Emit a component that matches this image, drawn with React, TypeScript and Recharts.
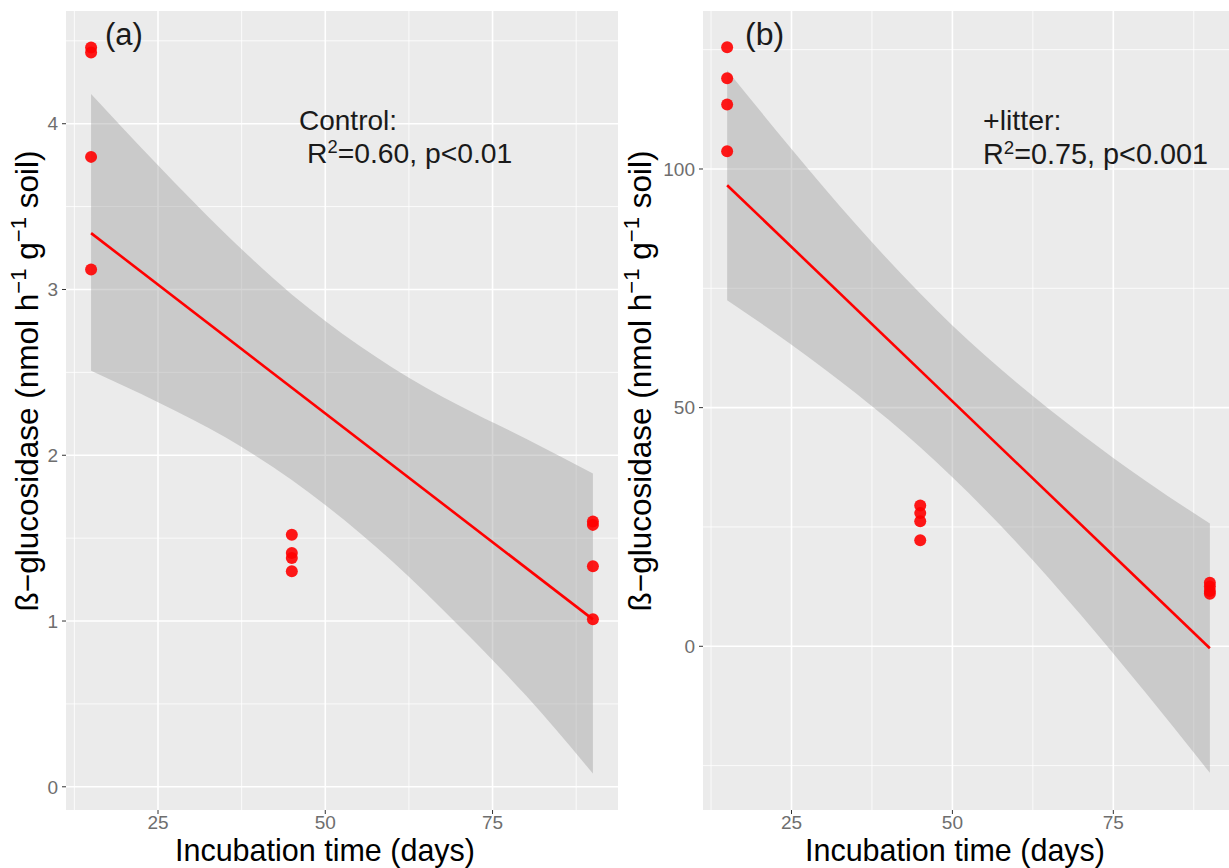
import React from "react";
import {
  ComposedChart,
  Scatter,
  Line,
  Area,
  XAxis,
  YAxis,
  CartesianGrid,
} from "recharts";

// incubation days for each replicate (same for both panels)
const days = [15, 15, 15, 15, 45, 45, 45, 45, 90, 90, 90, 90];

// beta-glucosidase activity
const controlVals = [4.46, 4.43, 3.8, 3.12, 1.52, 1.41, 1.38, 1.3, 1.6, 1.58, 1.33, 1.01];
const litterVals = [125.5, 119.0, 113.5, 103.7, 29.5, 27.9, 26.2, 22.2, 13.3, 12.5, 11.6, 11.0];

// fitted line ends
const fitDays = [15, 90];
const controlFit = [3.34, 1.01];
const litterFit = [96.6, -0.4];

// confidence band edges
const bandDays = [15, 25, 35, 45, 50, 60, 70, 80, 90];
const controlLo = [2.51, 2.32, 2.11, 1.85, 1.7, 1.36, 0.97, 0.55, 0.08];
const controlHi = [4.18, 3.75, 3.34, 2.97, 2.81, 2.53, 2.3, 2.1, 1.89];
const litterLo = [72.5, 63.2, 53.0, 41.7, 35.4, 21.7, 6.5, -9.7, -26.5];
const litterHi = [120.7, 104.2, 88.4, 73.9, 67.2, 55.2, 44.5, 34.7, 25.7];

// axis ticks
const xTicks = [25, 50, 75];
const xMinor = [12.5, 37.5, 62.5, 87.5];
const controlTicks = [0, 1, 2, 3, 4];
const controlMinor = [0.5, 1.5, 2.5, 3.5, 4.5];
const litterTicks = [0, 50, 100];
const litterMinor = [-25, 25, 75, 125];

const pts = (ys: number[]) => days.map((d, i) => ({ x: d, y: ys[i] }));
const fit = (ys: number[]) => fitDays.map((d, i) => ({ x: d, y: ys[i] }));
const band = (lo: number[], hi: number[]) =>
  bandDays.map((d, i) => ({ x: d, band: [lo[i], hi[i]] }));

const FONT = "'Liberation Sans', Arial, sans-serif";

const dot = (p: any) => (
  <circle cx={p.cx} cy={p.cy} r={6} fill="#ff0000" fillOpacity={0.9} />
);

function Panel(props: {
  width: number;
  yWidth: number;
  yDomain: [number, number];
  yTicks: number[];
  yMinor: number[];
  points: { x: number; y: number }[];
  line: { x: number; y: number }[];
  ribbon: { x: number; band: number[] }[];
}) {
  const tick = { fontSize: 19, fill: "#6e6e6e", fontFamily: FONT };
  return (
    <ComposedChart
      width={props.width}
      height={868}
      margin={{ top: 11, right: 0, bottom: 0, left: 0 }}
    >
      <CartesianGrid
        fill="#ebebeb"
        stroke="#ffffff"
        strokeWidth={0.8}
        horizontalValues={props.yMinor}
        verticalValues={xMinor}
      />
      <CartesianGrid
        stroke="#ffffff"
        strokeWidth={1.6}
        horizontalValues={props.yTicks}
        verticalValues={xTicks}
      />
      <XAxis
        type="number"
        dataKey="x"
        domain={[11.25, 93.75]}
        ticks={xTicks}
        allowDataOverflow
        height={58}
        axisLine={false}
        tickSize={4}
        tickMargin={1.5}
        tickLine={{ stroke: "#333333" }}
        tick={tick}
      />
      <YAxis
        type="number"
        dataKey="y"
        domain={props.yDomain}
        ticks={props.yTicks}
        allowDataOverflow
        width={props.yWidth}
        axisLine={false}
        tickSize={4}
        tickMargin={4}
        tickLine={{ stroke: "#333333" }}
        tick={tick}
      />
      <Scatter data={props.points} dataKey="y" shape={dot} isAnimationActive={false} />
      <Area
        data={props.ribbon}
        dataKey="band"
        type="monotone"
        fill="#999999"
        fillOpacity={0.4}
        stroke="none"
        isAnimationActive={false}
      />
      <Line
        data={props.line}
        dataKey="y"
        type="linear"
        stroke="#ff0000"
        strokeWidth={2.6}
        dot={false}
        isAnimationActive={false}
      />
    </ComposedChart>
  );
}

export default function App() {
  const yTitle = (
    <>
      ß−glucosidase (nmol h
      <tspan baselineShift="super" fontSize="0.7em">−1</tspan> g
      <tspan baselineShift="super" fontSize="0.7em">−1</tspan> soil)
    </>
  );
  return (
    <div
      style={{
        position: "absolute",
        left: 0,
        top: 0,
        width: 1229,
        height: 868,
        overflow: "hidden",
        background: "#ffffff",
        fontFamily: FONT,
      }}
    >
      <div style={{ position: "absolute", left: 0, top: 0 }}>
        <Panel
          width={618}
          yWidth={66}
          yDomain={[-0.14, 4.68]}
          yTicks={controlTicks}
          yMinor={controlMinor}
          points={pts(controlVals)}
          line={fit(controlFit)}
          ribbon={band(controlLo, controlHi)}
        />
      </div>
      <div style={{ position: "absolute", left: 640, top: 0 }}>
        <Panel
          width={594}
          yWidth={63}
          yDomain={[-34.3, 133.1]}
          yTicks={litterTicks}
          yMinor={litterMinor}
          points={pts(litterVals)}
          line={fit(litterFit)}
          ribbon={band(litterLo, litterHi)}
        />
      </div>
      <svg
        width={1229}
        height={868}
        style={{ position: "absolute", left: 0, top: 0, pointerEvents: "none" }}
        fontFamily={FONT}
      >
        <g fill="#1a1a1a">
          <text x={105} y={45} fontSize={31}>(a)</text>
          <text x={745} y={45} fontSize={32}>(b)</text>
          <text x={299} y={130} fontSize={28}>Control:</text>
          <text x={307} y={163} fontSize={28.3}>
            R<tspan baselineShift="super" fontSize="0.65em">2</tspan>=0.60, p&lt;0.01
          </text>
          <text x={983} y={130} fontSize={28.5}>+litter:</text>
          <text x={983} y={164} fontSize={28.8}>
            R<tspan baselineShift="super" fontSize="0.65em">2</tspan>=0.75, p&lt;0.001
          </text>
        </g>
        <g fill="#000000">
          <text x={325} y={861.3} fontSize={30.5} textAnchor="middle">Incubation time (days)</text>
          <text x={955} y={861.3} fontSize={30.5} textAnchor="middle">Incubation time (days)</text>
          <text x={38} y={381} fontSize={31.5} textAnchor="middle" transform="rotate(-90 38 381)">
            {yTitle}
          </text>
          <text x={651} y={381} fontSize={31.5} textAnchor="middle" transform="rotate(-90 651 381)">
            {yTitle}
          </text>
        </g>
      </svg>
    </div>
  );
}
